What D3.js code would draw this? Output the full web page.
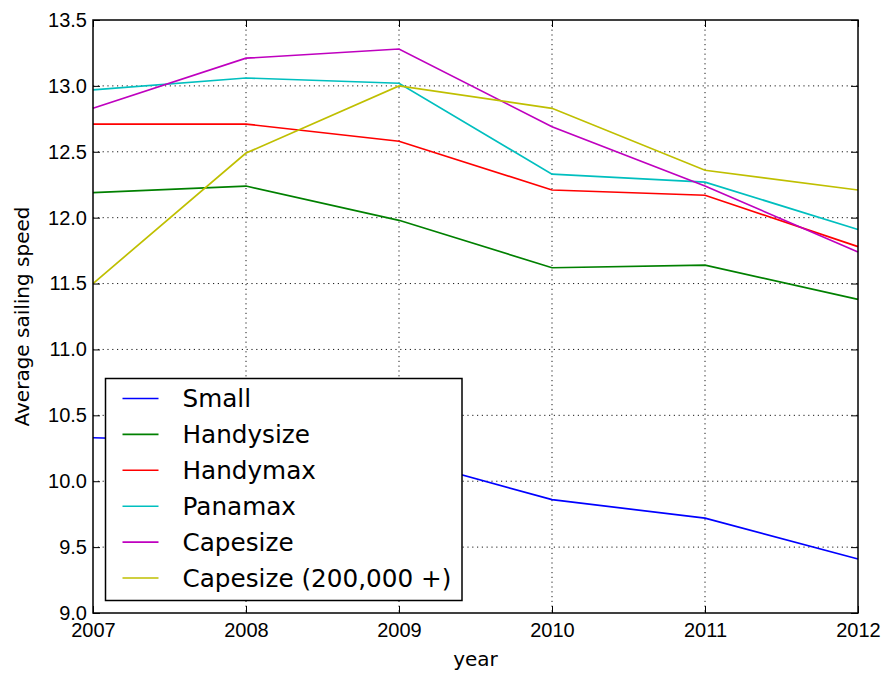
<!DOCTYPE html>
<html>
<head>
<meta charset="utf-8">
<script src="https://cdn.jsdelivr.net/npm/d3@7"></script>
<style>
  body { margin: 0; background: #fff; }
  svg { font-family: "DejaVu Sans", sans-serif; }
</style>
</head>
<body>
<svg id="chart" width="884" height="673"></svg>
<script>
// years on the x axis
var years = [2007, 2008, 2009, 2010, 2011, 2012];
var yTicks = [9.0, 9.5, 10.0, 10.5, 11.0, 11.5, 12.0, 12.5, 13.0, 13.5];

// average sailing speed per vessel class
var small      = [10.33, 10.30, 10.18, 9.86, 9.72, 9.41];
var handysize  = [12.19, 12.24, 11.98, 11.62, 11.64, 11.38];
var handymax   = [12.71, 12.71, 12.58, 12.21, 12.17, 11.78];
var panamax    = [12.97, 13.06, 13.02, 12.33, 12.27, 11.91];
var capesize   = [12.83, 13.21, 13.28, 12.69, 12.24, 11.74];
var capesize2  = [11.50, 12.49, 13.00, 12.83, 12.36, 12.21];

var seriesNames  = ["Small", "Handysize", "Handymax", "Panamax", "Capesize", "Capesize (200,000 +)"];
var seriesValues = [small, handysize, handymax, panamax, capesize, capesize2];
var seriesColors = ["#0000ff", "#008000", "#ff0000", "#00bfbf", "#bf00bf", "#bfbf00"];

var margin = {top: 20, right: 26, bottom: 60, left: 93};
var svg = d3.select("#chart");
var width = 884 - margin.left - margin.right;
var height = 673 - margin.top - margin.bottom;

var g = svg.append("g").attr("transform", "translate(" + margin.left + "," + margin.top + ")");

var x = d3.scaleLinear().domain([2007, 2012]).range([0, width]);
var y = d3.scaleLinear().domain([9.0, 13.5]).range([height, 0]);

// dotted grid
g.append("g").selectAll("line").data(years.slice(1, -1)).enter().append("line")
    .attr("x1", function(d) { return x(d); }).attr("x2", function(d) { return x(d); })
    .attr("y1", 0).attr("y2", height)
    .attr("stroke", "#000").attr("stroke-width", 0.9).attr("stroke-dasharray", "1.2,3.6");
g.append("g").selectAll("line").data(yTicks.slice(1, -1)).enter().append("line")
    .attr("y1", function(d) { return y(d); }).attr("y2", function(d) { return y(d); })
    .attr("x1", 0).attr("x2", width)
    .attr("stroke", "#000").attr("stroke-width", 0.9).attr("stroke-dasharray", "1.2,3.6");

// series lines
var line = d3.line()
    .x(function(d, i) { return x(years[i]); })
    .y(function(d) { return y(d); });

g.append("g").selectAll("path").data(seriesValues).enter().append("path")
    .attr("d", line)
    .attr("fill", "none")
    .attr("stroke", function(d, i) { return seriesColors[i]; })
    .attr("stroke-width", 1.7);

// axes, ticks point inward (classic style)
var fmtY = d3.format(".1f");
var xAxis = g.append("g").attr("transform", "translate(0," + height + ")")
    .call(d3.axisBottom(x).tickValues(years).tickFormat(d3.format("d")).tickSizeInner(-7).tickSizeOuter(0).tickPadding(10));
var xTop = g.append("g")
    .call(d3.axisTop(x).tickValues(years).tickFormat("").tickSizeInner(-7).tickSizeOuter(0));
var yAxis = g.append("g")
    .call(d3.axisLeft(y).tickValues(yTicks).tickFormat(fmtY).tickSizeInner(-7).tickSizeOuter(0).tickPadding(6));
var yRight = g.append("g").attr("transform", "translate(" + width + ",0)")
    .call(d3.axisRight(y).tickValues(yTicks).tickFormat("").tickSizeInner(-7).tickSizeOuter(0));

[xAxis, xTop, yAxis, yRight].forEach(function(a) {
    a.select(".domain").remove();
    a.selectAll(".tick line").attr("stroke", "#000").attr("stroke-width", 1);
    a.selectAll("text").attr("fill", "#000").style("font-size", "20px");
});
xAxis.selectAll("text").attr("dy", "0.71em");

// frame
g.append("rect").attr("width", width).attr("height", height)
    .attr("fill", "none").attr("stroke", "#000").attr("stroke-width", 1.5);

// axis labels
g.append("text").attr("x", width / 2).attr("y", height + 53)
    .attr("text-anchor", "middle").style("font-size", "20px").text("year");
svg.append("text").attr("transform", "translate(29," + (margin.top + height / 2) + ") rotate(-90)")
    .attr("text-anchor", "middle").style("font-size", "20px").text("Average sailing speed");

// legend
var legend = svg.append("g").attr("transform", "translate(105.5,378.5)");
legend.append("rect").attr("width", 356.5).attr("height", 222)
    .attr("fill", "#fff").attr("stroke", "#000").attr("stroke-width", 1.5);
var items = legend.selectAll("g.item").data(seriesNames).enter().append("g")
    .attr("transform", function(d, i) { return "translate(0," + (20 + i * 35.9) + ")"; });
items.append("line").attr("x1", 17).attr("x2", 53)
    .attr("stroke", function(d, i) { return seriesColors[i]; }).attr("stroke-width", 1.6);
items.append("text").attr("x", 77).attr("dy", "0.35em")
    .style("font-size", "24.7px").text(function(d) { return d; });
</script>
</body>
</html>
